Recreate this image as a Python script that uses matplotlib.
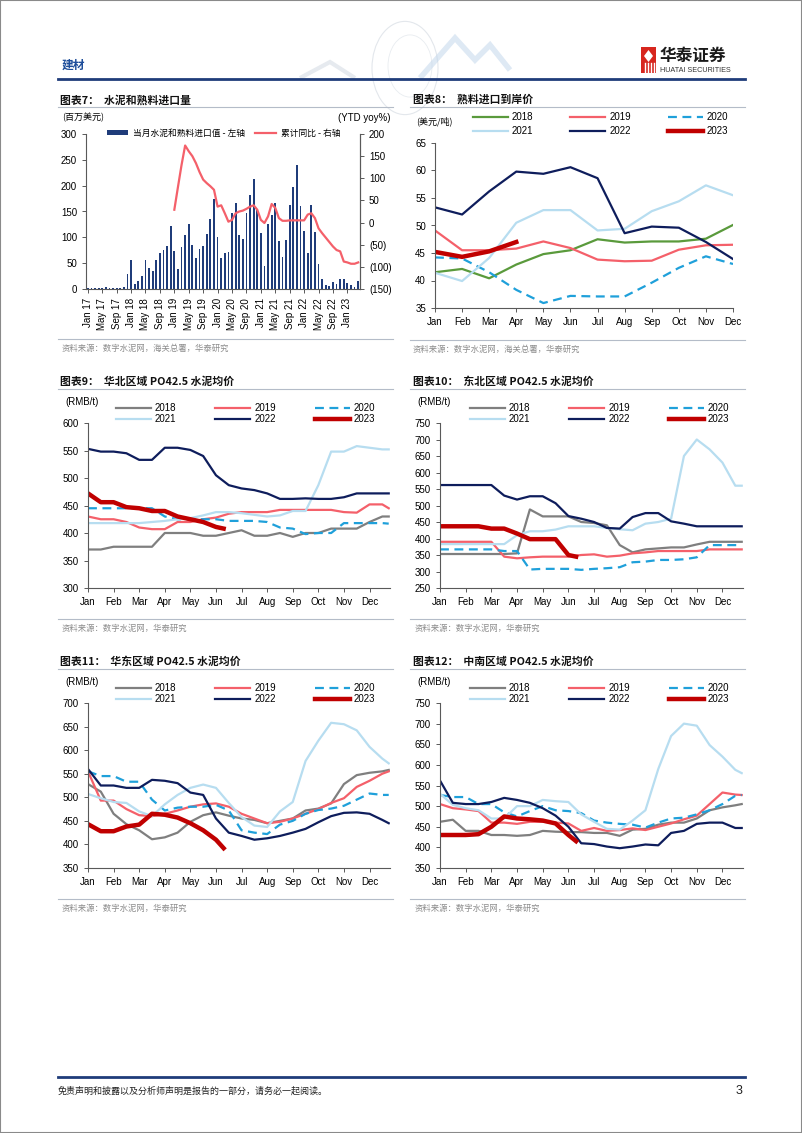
import numpy as np
import pandas as pd
import matplotlib
matplotlib.use("Agg")
import matplotlib.pyplot as plt
from matplotlib.patches import Rectangle, Polygon, Circle
from matplotlib.lines import Line2D

plt.rcParams['font.family'] = ['Liberation Sans', 'Noto Sans CJK SC', 'DejaVu Sans']

# ---------------- data ----------------
# chart 7: monthly import value (USD mn), Jan 17 - Apr 23
imp_months = pd.date_range('2017-01-01', '2023-04-01', freq='MS')
imp_val = [1, 1, 1, 1, 2, 3, 1, 1, 1, 2, 4, 29,
           57, 10, 15, 25, 57, 40, 35, 56, 70, 76, 84, 122,
           73, 39, 81, 104, 126, 86, 60, 78, 84, 107, 135, 175,
           100, 60, 69, 72, 147, 167, 104, 97, 148, 182, 213, 152,
           108, 45, 125, 143, 167, 92, 62, 95, 162, 197, 240, 160,
           113, 69, 162, 110, 48, 20, 8, 5, 13, 10, 19, 20,
           11, 7, 3, 15]
# YTD yoy %, Jan 19 - Apr 23
yoy = [29, 80, 130, 174, 161, 150, 134, 114, 97, 89, 82, 74,
       36, 39, 21, 2, 6, 21, 25, 27, 31, 36, 39, 29,
       6, -1, 14, 42, 33, 10, 4, 4, 5, 5, 5, 5,
       5, 18, 21, 10, -13, -24, -34, -44, -54, -62, -65, -88,
       -90, -93, -93, -90]

# chart 8: clinker import landed price (USD/t)
month_names = ['Jan', 'Feb', 'Mar', 'Apr', 'May', 'Jun',
               'Jul', 'Aug', 'Sep', 'Oct', 'Nov', 'Dec']
clk_2018 = [41.5, 42.1, 40.4, 42.9, 44.8, 45.5, 47.5, 46.9, 47.1, 47.1, 47.6, 50.1]
clk_2019 = [49.1, 45.5, 45.5, 45.8, 47.1, 45.9, 43.8, 43.5, 43.6, 45.6, 46.4, 46.5]
clk_2020 = [44.2, 44.0, 41.5, 38.3, 35.9, 37.2, 37.1, 37.1, 39.6, 42.3, 44.4, 43.0]
clk_2021 = [41.4, 39.9, 44.1, 50.5, 52.8, 52.8, 49.1, 49.4, 52.6, 54.4, 57.3, 55.5]
clk_2022 = [53.3, 52.0, 56.2, 59.8, 59.4, 60.6, 58.6, 48.6, 49.8, 49.6, 47.0, 43.9]
clk_2023 = [45.2, 44.3, 45.3, 47.0]

# charts 9-12: PO42.5 cement average price (RMB/t), half-month samples
t_full = [i * 0.5 for i in range(24)] + [11.75]
t_2023 = [i * 0.5 for i in range(11)] + [5.3]

north_2018 = [370, 370, 375, 375, 375, 375, 400, 400, 400, 395, 395, 400, 405, 395, 395, 400, 393, 400, 400, 408, 408, 408, 420, 430, 430]
north_2019 = [430, 425, 425, 420, 410, 407, 407, 420, 420, 425, 428, 435, 438, 438, 438, 442, 442, 442, 442, 442, 438, 437, 452, 452, 445]
north_2020 = [445, 445, 445, 445, 445, 445, 430, 425, 425, 425, 425, 422, 422, 422, 420, 410, 408, 398, 400, 400, 418, 418, 418, 418, 417]
north_2021 = [418, 418, 418, 418, 418, 420, 422, 425, 427, 432, 438, 438, 436, 433, 430, 432, 440, 440, 487, 548, 548, 558, 555, 552, 552]
north_2022 = [553, 548, 548, 545, 533, 533, 555, 555, 551, 540, 505, 487, 481, 478, 472, 462, 462, 463, 462, 462, 465, 472, 472, 472, 472]
north_2023 = [472, 456, 456, 447, 445, 440, 440, 430, 425, 420, 411, 408]

ne_2018 = [353, 353, 353, 353, 353, 353, 355, 488, 467, 467, 467, 450, 447, 440, 380, 358, 367, 370, 373, 373, 382, 390, 390, 390, 390]
ne_2019 = [390, 390, 390, 390, 390, 345, 340, 343, 345, 345, 345, 350, 352, 345, 348, 355, 358, 362, 362, 362, 362, 367, 367, 367, 367]
ne_2020 = [367, 367, 367, 367, 367, 362, 362, 306, 308, 308, 308, 305, 308, 310, 313, 328, 330, 335, 335, 337, 343, 380, 380, 380, 380]
ne_2021 = [383, 383, 383, 383, 383, 383, 410, 422, 422, 427, 437, 437, 437, 432, 428, 425, 445, 450, 460, 650, 700, 670, 630, 560, 560]
ne_2022 = [562, 562, 562, 562, 562, 530, 518, 528, 528, 507, 468, 460, 450, 432, 430, 465, 477, 477, 452, 445, 437, 437, 437, 437, 437]
ne_2023 = [437, 437, 437, 437, 430, 430, 415, 398, 398, 398, 350, 345]

east_2018 = [528, 512, 465, 443, 430, 411, 415, 425, 448, 462, 468, 461, 455, 452, 445, 450, 455, 472, 476, 487, 528, 547, 552, 555, 558]
east_2019 = [555, 493, 493, 475, 462, 460, 465, 472, 480, 485, 487, 480, 465, 455, 445, 448, 455, 465, 475, 488, 498, 522, 535, 550, 555]
east_2020 = [555, 545, 545, 533, 533, 495, 472, 478, 480, 480, 484, 472, 430, 425, 422, 442, 450, 465, 473, 476, 482, 495, 508, 505, 505]
east_2021 = [507, 498, 490, 488, 470, 460, 485, 505, 520, 527, 520, 488, 458, 440, 437, 470, 490, 577, 620, 658, 655, 642, 607, 582, 572]
east_2022 = [560, 525, 525, 520, 520, 537, 535, 530, 510, 505, 455, 425, 418, 410, 413, 418, 425, 433, 447, 460, 467, 468, 465, 452, 445]
east_2023 = [443, 428, 428, 438, 442, 465, 463, 457, 445, 430, 410, 392]

cs_2018 = [462, 467, 440, 440, 430, 430, 428, 430, 440, 438, 437, 437, 435, 435, 428, 443, 445, 455, 460, 460, 470, 490, 497, 502, 505]
cs_2019 = [505, 495, 492, 488, 460, 460, 457, 462, 462, 460, 458, 440, 447, 440, 442, 446, 442, 450, 458, 468, 477, 505, 533, 528, 527]
cs_2020 = [527, 522, 522, 505, 505, 485, 475, 488, 500, 490, 488, 483, 465, 460, 457, 455, 448, 460, 470, 472, 480, 490, 505, 525, 527]
cs_2021 = [530, 503, 495, 490, 470, 470, 500, 500, 515, 512, 510, 480, 462, 445, 443, 465, 490, 590, 670, 700, 695, 648, 620, 588, 580]
cs_2022 = [562, 508, 505, 505, 510, 520, 515, 508, 495, 477, 450, 410, 408, 402, 398, 402, 407, 405, 435, 440, 457, 460, 460, 447, 447]
cs_2023 = [430, 430, 430, 432, 450, 475, 470, 468, 465, 458, 430, 415]

years = ['2018', '2019', '2020', '2021', '2022', '2023']

# ---------------- styles ----------------
STYLE = {
    '2018': dict(color='#7F7F7F', lw=1.6, ls='-'),
    '2019': dict(color='#F4606A', lw=1.6, ls='-'),
    '2020': dict(color='#1FA0DA', lw=1.6, ls=(0, (4, 2.5))),
    '2021': dict(color='#B7DDF0', lw=1.6, ls='-'),
    '2022': dict(color='#0E1D5C', lw=1.6, ls='-'),
    '2023': dict(color='#C00000', lw=3.2, ls='-'),
}
NAVY = '#1F3C7A'
AXC = '#595959'
SRC = '#8C8C8C'
FS = 7
CJK = ['Noto Sans CJK SC', 'DejaVu Sans']

W, H = 802, 1133
fig = plt.figure(figsize=(W / 100, H / 100), dpi=100)


def box(x0, y0, x1, y1):
    return [x0 / W, 1 - y1 / H, (x1 - x0) / W, (y1 - y0) / H]


def fx(x):
    return x / W


def fy(y):
    return 1 - y / H


def hline(x0, x1, y, color, lw):
    fig.add_artist(Line2D([fx(x0), fx(x1)], [fy(y), fy(y)], color=color, lw=lw,
                          transform=fig.transFigure))


def style_axes(ax):
    for s in ['top', 'right']:
        ax.spines[s].set_visible(False)
    for s in ['left', 'bottom']:
        ax.spines[s].set_color(AXC)
        ax.spines[s].set_linewidth(0.8)
    ax.tick_params(labelsize=FS, colors='black', length=3, width=0.7, direction='out')
    ax.tick_params(axis='both', color=AXC)
    ax.set_facecolor('none')


def panel_frame(x_left, x_right, y_top, title, tx):
    fig.text(fx(tx), fy(y_top + 12), title, fontsize=7.8, fontweight='bold',
             family=CJK, va='center', ha='left', color='#111111')
    hline(x_left, x_right, y_top + 19, '#B4BCC8', 0.8)


def source_line(x_left, x_right, y, tx, text):
    hline(x_left, x_right, y, '#B4BCC8', 0.8)
    fig.text(fx(tx), fy(y + 9), text, fontsize=6, color=SRC,
             family=CJK, va='center', ha='left')


# ---------------- page frame / header / footer ----------------
fig.add_artist(Rectangle((0, 0), 1, 1, transform=fig.transFigure, fill=False,
                         edgecolor='#8A8A8A', lw=1.5))
# faint globe decoration
fig.add_artist(Circle((fx(405), fy(68)), 33 / W, transform=fig.transFigure,
                      fill=False, edgecolor='#E3E7EC', lw=0.8))
fig.add_artist(Circle((fx(410), fy(66)), 22 / W, transform=fig.transFigure,
                      fill=False, edgecolor='#E8ECF0', lw=0.6))
fig.add_artist(Polygon([[fx(300), fy(78)], [fx(330), fy(62)], [fx(355), fy(78)]],
                       closed=False, fill=False, edgecolor='#E6EAEF', lw=3,
                       transform=fig.transFigure))
fig.add_artist(Polygon([[fx(420), fy(78)], [fx(455), fy(38)], [fx(475), fy(60)], [fx(490), fy(45)], [fx(510), fy(70)]],
                       closed=False, fill=False, edgecolor='#C3D7EC', lw=4, alpha=0.55,
                       transform=fig.transFigure))
fig.text(fx(62), fy(65), '建材', fontsize=8.5, fontweight='bold', color='#1F4E9A',
         family=CJK, va='center')
hline(58, 745, 79, NAVY, 2.0)
# logo
fig.add_artist(Rectangle((fx(641), fy(73)), 15 / W, 26 / H, transform=fig.transFigure,
                         facecolor='#D7261E', edgecolor='none'))
fig.add_artist(Polygon([[fx(648.5), fy(50)], [fx(653), fy(56)], [fx(648.5), fy(62)], [fx(644), fy(56)]],
                       transform=fig.transFigure, facecolor='white', edgecolor='none'))
for xx in [644.5, 647.5, 650.5, 653.5]:
    fig.add_artist(Line2D([fx(xx), fx(xx)], [fy(63), fy(72)], color='white', lw=1.0,
                          transform=fig.transFigure))
fig.text(fx(660), fy(56), '华泰证券', fontsize=12, fontweight='bold', color='#1A1A1A',
         family=CJK, va='center')
fig.text(fx(660), fy(70), 'HUATAI SECURITIES', fontsize=5.2, color='#333333', va='center')

hline(58, 745, 1077, NAVY, 2.0)
fig.text(fx(58), fy(1091), '免责声明和披露以及分析师声明是报告的一部分，请务必一起阅读。', fontsize=6.5,
         style='italic', family=CJK, va='center', color='#222222')
fig.text(fx(742), fy(1091), '3', fontsize=9, va='center', ha='right', color='#222222')

# ---------------- chart 7 ----------------
panel_frame(58, 393, 88, '图表7：  水泥和熟料进口量', 60)
fig.text(fx(62), fy(118), '(百万美元)', fontsize=6.5, family=CJK, va='center')
fig.text(fx(391), fy(118), '(YTD yoy%)', fontsize=FS, va='center', ha='right')
ax7 = fig.add_axes(box(86, 134, 360, 289))
style_axes(ax7)
xb = np.arange(len(imp_val))
ax7.bar(xb, imp_val, width=0.5, color=NAVY, label='当月水泥和熟料进口值 - 左轴')
ax7.set_xlim(-0.5, len(imp_val) - 0.5)
ax7.set_ylim(0, 300)
ax7.set_yticks(range(0, 301, 50))
ax7.set_xticks(xb[::4])
ax7.set_xticklabels([d.strftime('%b %y') for d in imp_months[::4]], rotation=90)
ax7.spines['right'].set_visible(True)
ax7.spines['right'].set_color(AXC)
ax7.spines['right'].set_linewidth(0.8)
ax72 = ax7.twinx()
ax72.set_facecolor('none')
for s in ['top', 'left', 'bottom']:
    ax72.spines[s].set_visible(False)
ax72.spines['right'].set_color(AXC)
ax72.spines['right'].set_linewidth(0.8)
yoy_x = np.arange(len(imp_val) - len(yoy), len(imp_val))
ax72.plot(yoy_x, yoy, color='#F4606A', lw=1.6, label='累计同比 - 右轴')
ax72.set_ylim(-150, 200)
ax72.set_yticks(range(-150, 201, 50))
ax72.set_yticklabels([f'({-v})' if v < 0 else str(v) for v in range(-150, 201, 50)])
ax72.tick_params(labelsize=FS, length=3, width=0.7, color=AXC)
h1, l1 = ax7.get_legend_handles_labels()
h2, l2 = ax72.get_legend_handles_labels()
ax72.legend(h1 + h2, l1 + l2, loc='center left', bbox_to_anchor=(fx(103), fy(133)),
            bbox_transform=fig.transFigure, ncol=2, frameon=False,
            prop={'family': CJK, 'size': 6.3},
            handlelength=2.4, handletextpad=0.5, columnspacing=1.2, borderpad=0,
            handleheight=0.5)
source_line(58, 393, 339, 62, '资料来源：数字水泥网，海关总署，华泰研究')

# ---------------- chart 8 ----------------
panel_frame(410, 745, 88, '图表8：  熟料进口到岸价', 413)
fig.text(fx(416), fy(121), '(美元/吨)', fontsize=6.5, family=CJK, va='center')
ax8 = fig.add_axes(box(435, 143, 733, 308))
style_axes(ax8)
clk = dict(zip(years, [clk_2018, clk_2019, clk_2020, clk_2021, clk_2022, clk_2023]))
for y in years:
    st = dict(STYLE[y])
    if y == '2018':
        st['color'] = '#5A9A3C'
    ax8.plot(range(len(clk[y])), clk[y], label=y, **st)
ax8.set_xlim(0, 11)
ax8.set_ylim(35, 65)
ax8.set_yticks(range(35, 66, 5))
ax8.set_xticks(range(12))
ax8.set_xticklabels(month_names)
h, l = ax8.get_legend_handles_labels()
order = [0, 3, 1, 4, 2, 5]
ax8.legend([h[i] for i in order], [l[i] for i in order], loc='upper left',
           bbox_to_anchor=(fx(473), fy(112)), bbox_transform=fig.transFigure, ncol=3,
           frameon=False, fontsize=FS, handlelength=3.6, handletextpad=0.4,
           columnspacing=3.8, labelspacing=0.45, borderpad=0, borderaxespad=0)
source_line(410, 745, 340, 413, '资料来源：数字水泥网，海关总署，华泰研究')


# ---------------- charts 9-12 ----------------
def price_panel(ox, oy, title, series, ylim, ystep):
    if ox < 200:
        xl, xr, lx0, lx1, tx, lgx = 88, 390, 58, 393, 60, 116
    else:
        xl, xr, lx0, lx1, tx, lgx = 440, 743, 410, 745, 413, 470
    panel_frame(lx0, lx1, oy, title, tx)
    fig.text(fx(xl - 23), fy(oy + 32), '(RMB/t)', fontsize=FS, va='center')
    ax = fig.add_axes(box(xl, oy + 53, xr, oy + 218))
    style_axes(ax)
    for y in years:
        xs = t_2023 if y == '2023' else t_full
        ax.plot(xs, series[y], label=y, **STYLE[y])
    ax.set_xlim(0, 11.8)
    ax.set_ylim(*ylim)
    ax.set_yticks(np.arange(ylim[0], ylim[1] + 1, ystep))
    ax.set_xticks(range(12))
    ax.set_xticklabels(month_names)
    h, l = ax.get_legend_handles_labels()
    order = [0, 3, 1, 4, 2, 5]
    ax.legend([h[i] for i in order], [l[i] for i in order], loc='upper left',
              bbox_to_anchor=(fx(lgx), fy(oy + 33)), bbox_transform=fig.transFigure, ncol=3,
              frameon=False, fontsize=FS, handlelength=3.6, handletextpad=0.4,
              columnspacing=4.0, labelspacing=0.1, borderpad=0, borderaxespad=0)
    source_line(lx0, lx1, oy + 249, tx + 2, '资料来源：数字水泥网，华泰研究')
    return ax


price_panel(50, 370, '图表9：  华北区域 PO42.5 水泥均价',
            dict(zip(years, [north_2018, north_2019, north_2020, north_2021, north_2022, north_2023])),
            (300, 600), 50)
price_panel(400, 370, '图表10：  东北区域 PO42.5 水泥均价',
            dict(zip(years, [ne_2018, ne_2019, ne_2020, ne_2021, ne_2022, ne_2023])),
            (250, 750), 50)
price_panel(50, 650, '图表11：  华东区域 PO42.5 水泥均价',
            dict(zip(years, [east_2018, east_2019, east_2020, east_2021, east_2022, east_2023])),
            (350, 700), 50)
price_panel(400, 650, '图表12：  中南区域 PO42.5 水泥均价',
            dict(zip(years, [cs_2018, cs_2019, cs_2020, cs_2021, cs_2022, cs_2023])),
            (350, 750), 50)

fig.savefig('out.png', dpi=100)
